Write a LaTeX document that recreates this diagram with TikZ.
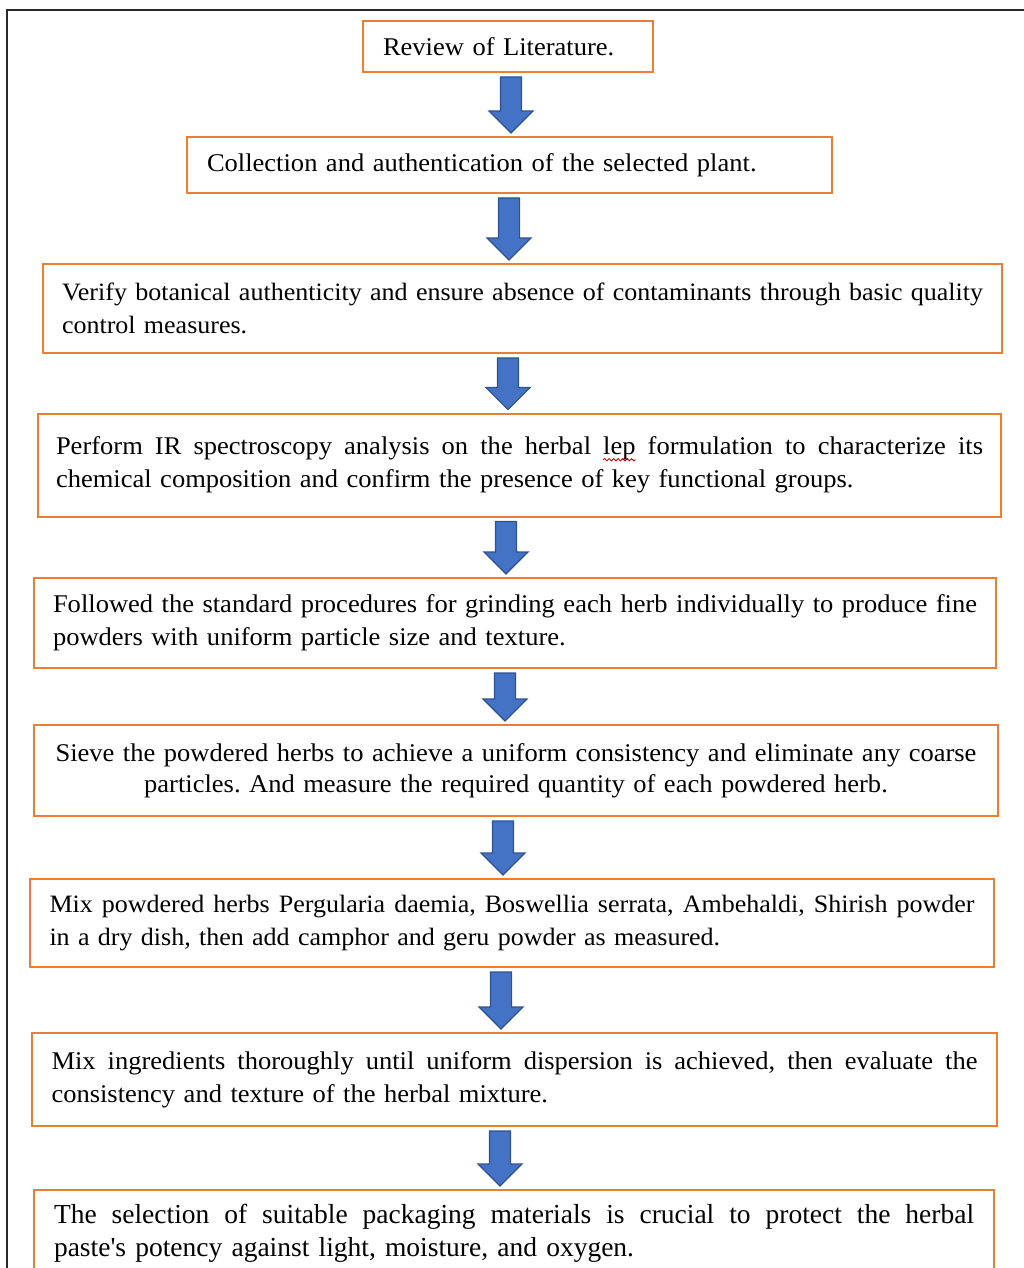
\documentclass[tikz,border=0pt]{standalone}
\usepackage{fontspec}
\setmainfont{Liberation Serif}[FakeStretch=1.04]
\newfontfamily\plainserif{Liberation Serif}
\usetikzlibrary{calc,decorations.pathmorphing}
\definecolor{boxorange}{RGB}{237,125,49}
\definecolor{arrowblue}{RGB}{68,114,196}
\definecolor{arrowedge}{RGB}{47,82,143}
\definecolor{framegray}{RGB}{40,40,40}
\newlength\sqlen
\newcommand\spellwave[1]{\settowidth\sqlen{#1}\makebox[0pt][l]{\tikz[baseline=0pt]{\useasboundingbox (0pt,0pt); \draw[overlay,red!85!black,line width=0.9pt,decorate,decoration={snake,amplitude=1.2pt,segment length=4.5pt}] (0pt,-5pt) -- (\sqlen,-5pt);}}#1}
\newcommand\fullline[2]{\hbox to #1{\spaceskip=0.25em plus 1em minus 0.08em\xspaceskip=0pt #2}}
\newcommand\flowarrow[2]{\draw[flowarrowstyle] let \p1=(#1), \p2=(#2) in
  (\x1-10.5pt,\y1-4pt) -- (\x1+10.5pt,\y1-4pt) -- (\x1+10.5pt,\y2+25pt) -- (\x1+22pt,\y2+25pt)
  -- (\x1,\y2+3pt) -- (\x1-22pt,\y2+25pt) -- (\x1-10.5pt,\y2+25pt) -- cycle;}
\begin{document}
\begin{tikzpicture}[x=1pt,y=-1pt,
  box/.style={draw=boxorange,line width=2pt,fill=white,rectangle,inner sep=0pt,align=left,
    font=\fontsize{25.5}{33}\selectfont\frenchspacing},
  flowarrowstyle/.style={fill=arrowblue,draw=arrowedge,line width=1.2pt,line join=miter}]
\path[use as bounding box] (0,0) rectangle (1024,1268);
\clip (0,0) rectangle (1024,1268);
\draw[line width=1.5pt,framegray] (7,1280) -- (7,10) -- (1030,10);

\node[box,minimum width=290pt,minimum height=51pt,text width=250pt] (b1) at (508,46.5)
  {Review of Literature.};
\node[box,minimum width=645pt,minimum height=56pt,text width=605pt] (b2) at (509.5,165)
  {Collection and authentication of the selected plant.};
\node[box,minimum width=959pt,minimum height=89pt,text width=921pt,
  font=\fontsize{25}{33}\selectfont\frenchspacing] (b3) at (522.5,308.5)
  {\fullline{921pt}{Verify botanical authenticity and ensure absence of contaminants through basic quality}\\
   control measures.};
\node[box,minimum width=963pt,minimum height=103pt,text width=927pt] (b4) at (519.5,465)
  {\fullline{927pt}{Perform IR spectroscopy analysis on the herbal \spellwave{lep} formulation to characterize its}\\
   chemical composition and confirm the presence of key functional groups.};
\node[box,minimum width=962pt,minimum height=90pt,text width=924pt] (b5) at (515,623)
  {\fullline{924pt}{Followed the standard procedures for grinding each herb individually to produce fine}\\
   powders with uniform particle size and texture.};
\node[box,minimum width=964pt,minimum height=91pt,text width=940pt,align=center,
  font=\fontsize{25.5}{31}\selectfont\frenchspacing] (b6) at (516,770.5)
  {Sieve the powdered herbs to achieve a uniform consistency and eliminate any coarse\\
   particles. And measure the required quantity of each powdered herb.};
\node[box,minimum width=964pt,minimum height=88pt,text width=925pt,
  font=\fontsize{25}{33}\selectfont\frenchspacing] (b7) at (512,923)
  {\fullline{925pt}{Mix powdered herbs Pergularia daemia, Boswellia serrata, Ambehaldi, Shirish powder}\\
   in a dry dish, then add camphor and geru powder as measured.};
\node[box,minimum width=965pt,minimum height=93pt,text width=926pt] (b8) at (514.5,1079.5)
  {\fullline{926pt}{Mix ingredients thoroughly until uniform dispersion is achieved, then evaluate the}\\
   consistency and texture of the herbal mixture.};
\node[box,minimum width=960pt,minimum height=86pt,text width=920pt,
  font=\plainserif\fontsize{27.5}{33}\selectfont\frenchspacing] (b9) at (514,1233)
  {\fullline{920pt}{The selection of suitable packaging materials is crucial to protect the herbal}\\
   paste's potency against light, moisture, and oxygen.};

\coordinate (a1s) at (b1.south -| 511,0); \coordinate (a1e) at (b2.north -| 511,0);
\coordinate (a2s) at (b2.south -| 509,0); \coordinate (a2e) at (b3.north -| 509,0);
\coordinate (a3s) at (b3.south -| 508,0); \coordinate (a3e) at (b4.north -| 508,0);
\coordinate (a4s) at (b4.south -| 506,0); \coordinate (a4e) at (b5.north -| 506,0);
\coordinate (a5s) at (b5.south -| 505,0); \coordinate (a5e) at (b6.north -| 505,0);
\coordinate (a6s) at (b6.south -| 503,0); \coordinate (a6e) at (b7.north -| 503,0);
\coordinate (a7s) at (b7.south -| 501,0); \coordinate (a7e) at (b8.north -| 501,0);
\coordinate (a8s) at (b8.south -| 500,0); \coordinate (a8e) at (b9.north -| 500,0);
\flowarrow{a1s}{a1e}
\flowarrow{a2s}{a2e}
\flowarrow{a3s}{a3e}
\flowarrow{a4s}{a4e}
\flowarrow{a5s}{a5e}
\flowarrow{a6s}{a6e}
\flowarrow{a7s}{a7e}
\flowarrow{a8s}{a8e}
\end{tikzpicture}
\end{document}
